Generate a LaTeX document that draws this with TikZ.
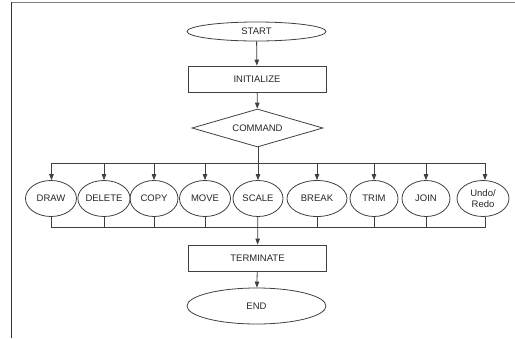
\documentclass[tikz,border=0pt]{standalone}
\usepackage{fontspec}
\setmainfont{Liberation Sans}
\usetikzlibrary{shapes.geometric,arrows.meta}
\tikzset{
  base/.style={draw=black!75, line width=0.8pt, inner sep=0pt, font=\fontsize{9.5}{11.5}\selectfont, align=center, text=black!85},
  term/.style={base, ellipse, minimum width=139pt, minimum height=#1},
  proc/.style={base, rectangle, minimum width=138pt, minimum height=26pt},
  choice/.style={base, diamond, aspect=3.45, minimum width=131pt, minimum height=38pt},
  cmdop/.style={base, ellipse, minimum height=36pt, minimum width=#1},
  link/.style={draw=black!75, line width=0.8pt},
  flow/.style={link, -{Triangle[length=6pt,width=4.5pt]}}
}
\begin{document}
\begin{tikzpicture}[x=1pt, y=-1pt]
  \useasboundingbox (0,0) rectangle (515,338);
  % page frame
  \draw[black!50, line width=1.4pt] (11,2.6) -- (515,2.6);
  \draw[black!80, line width=1.3pt] (11.6,2) -- (11.6,338);

  % main chain
  \node[term=19pt] (start) at (256.5,31.5) {START};
  \node[proc] (init) at (257,79) {INITIALIZE};
  \node[choice] (cmd) at (257.5,128) {COMMAND};
  \node[proc] (term) at (257.5,258) {TERMINATE};
  \node[term=36pt] (end) at (256.5,306) {END};

  % command operations
  \node[cmdop=51pt] (draw)   at (51,198.5)  {DRAW};
  \node[cmdop=50pt] (delete) at (104,198.5) {DELETE};
  \node[cmdop=48pt] (copy)   at (154,198.5) {COPY};
  \node[cmdop=51pt] (move)   at (205,198.5) {MOVE};
  \node[cmdop=50pt] (scale)  at (258,198.5) {SCALE};
  \node[cmdop=60pt] (break)  at (317,198.5) {BREAK};
  \node[cmdop=48pt] (trim)   at (374,198.5) {TRIM};
  \node[cmdop=48pt] (join)   at (426,198.5) {JOIN};
  \node[cmdop=52pt] (undo)   at (483,198.5) {Undo/\\Redo};

  % bus lines
  \coordinate (split) at (258,163);
  \coordinate (merge) at (258,227.5);
  \coordinate (splitL) at (51.5,163);
  \coordinate (splitR) at (485,163);
  \coordinate (mergeL) at (51.5,227.5);
  \coordinate (mergeR) at (485,227.5);

  \draw[flow] (start) -- (init);
  \draw[flow] (init) -- (cmd);
  \draw[link] (splitL) -- (splitR);
  \draw[link] (mergeL) -- (mergeR);
  \draw[flow] (cmd.south -| split) -- (scale);
  \draw[flow] (scale) -- (term);
  \draw[flow] (term) -- (end);

  \foreach \n/\x in {draw/51.5, delete/104, copy/154, move/205, break/317, trim/374, join/426, undo/485} {
    \draw[flow] (\x,163) -- (\n.north -| {(\x,0)});
    \draw[link] (\n.south -| {(\x,0)}) -- (\x,227.5);
  }
\end{tikzpicture}
\end{document}
